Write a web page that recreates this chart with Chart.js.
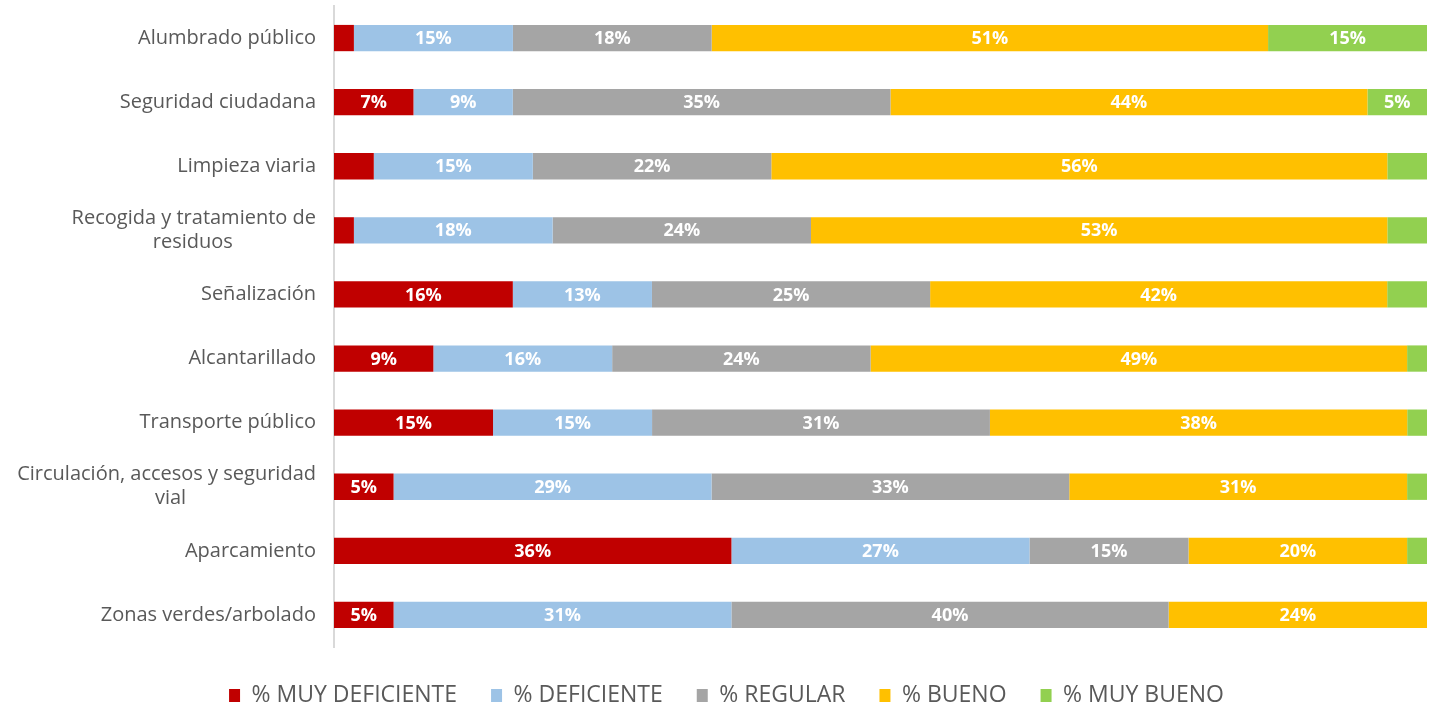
<!DOCTYPE html>
<html>
<head>
<meta charset="utf-8">
<script src="https://cdn.jsdelivr.net/npm/chart.js@4/dist/chart.umd.min.js"></script>
<style>
  html, body { margin:0; padding:0; background:#fff; }
  #wrap { width:1437px; height:705px; position:relative; }
</style>
</head>
<body>
<div id="wrap"><canvas id="chart"></canvas></div>
<script>
// categories (top to bottom); trailing spaces centre the 2nd line under the 1st
const categories = [
  "Alumbrado público",
  "Seguridad ciudadana",
  "Limpieza viaria",
  ["Recogida y tratamiento de", "residuos                "],
  "Señalización",
  "Alcantarillado",
  "Transporte público",
  ["Circulación, accesos y seguridad", "vial                         "],
  "Aparcamiento",
  "Zonas verdes/arbolado"
];

// percentages per rating
const muyDeficiente = [1.82, 7.27, 3.64, 1.82, 16.36, 9.09, 14.55, 5.45, 36.36, 5.45];
const deficiente    = [14.55, 9.09, 14.55, 18.18, 12.73, 16.36, 14.55, 29.09, 27.27, 30.91];
const regular       = [18.18, 34.55, 21.82, 23.64, 25.45, 23.64, 30.91, 32.73, 14.55, 40.0];
const bueno         = [50.91, 43.64, 56.36, 52.73, 41.82, 49.09, 38.18, 30.91, 20.0, 23.64];
const muyBueno      = [14.55, 5.45, 3.64, 3.64, 3.64, 1.82, 1.82, 1.82, 1.82, 0];

const seriesNames = ["% MUY DEFICIENTE", "% DEFICIENTE", "% REGULAR", "% BUENO", "% MUY BUENO"];
const seriesColors = ["#C00000", "#9DC3E6", "#A5A5A5", "#FFC000", "#92D050"];
const seriesData = [muyDeficiente, deficiente, regular, bueno, muyBueno];

// white % labels inside segments (skip the thin ones)
const segmentLabels = {
  id: "segmentLabels",
  afterDatasetsDraw(chart){
    const ctx = chart.ctx;
    ctx.save();
    ctx.font = "bold 18px 'Open Sans'";
    ctx.fillStyle = "#fff";
    ctx.textAlign = "center";
    ctx.textBaseline = "middle";
    chart.data.datasets.forEach((ds, i) => {
      const meta = chart.getDatasetMeta(i);
      meta.data.forEach((bar, j) => {
        const v = ds.data[j];
        if (v < 5) return;
        ctx.fillText(Math.round(v) + "%", (bar.x + bar.base) / 2, bar.y + 1);
      });
    });
    ctx.restore();
  }
};

// legend in the original sits a bit right of centre
const nudgeLegend = {
  id: "nudgeLegend",
  afterLayout(chart){
    if (chart.legend) chart.legend.left += 26;
  }
};

new Chart(document.getElementById("chart"), {
  type: "bar",
  data: {
    labels: categories,
    datasets: seriesNames.map((name, i) => ({
      label: name,
      data: seriesData[i],
      backgroundColor: seriesColors[i],
      borderWidth: 0,
      barPercentage: 0.41,
      categoryPercentage: 1
    }))
  },
  options: {
    indexAxis: "y",
    responsive: true,
    maintainAspectRatio: false,
    animation: false,
    layout: { padding: { left: 0, right: 10, top: 6, bottom: -12 } },
    plugins: {
      tooltip: { enabled: false },
      legend: {
        position: "bottom",
        labels: {
          color: "#595959",
          font: { family: "'Liberation Sans Narrow', 'Open Sans'", size: 23 },
          boxWidth: 11,
          boxHeight: 13,
          padding: 34
        }
      }
    },
    scales: {
      x: {
        stacked: true,
        min: 0,
        max: 100,
        grid: { display: false },
        border: { display: false },
        ticks: { display: false },
        afterFit(scale){ scale.height = 3; }
      },
      y: {
        stacked: true,
        grid: { display: false },
        border: { color: "#D9D9D9", width: 2 },
        ticks: {
          color: "#595959",
          font: { family: "'Open Sans'", size: 20 },
          padding: 10
        },
        afterFit(scale){
          scale.width = 334;
          scale.paddingTop = 0;
          scale.paddingBottom = 0;
        }
      }
    }
  },
  plugins: [segmentLabels, nudgeLegend]
});
</script>
</body>
</html>
